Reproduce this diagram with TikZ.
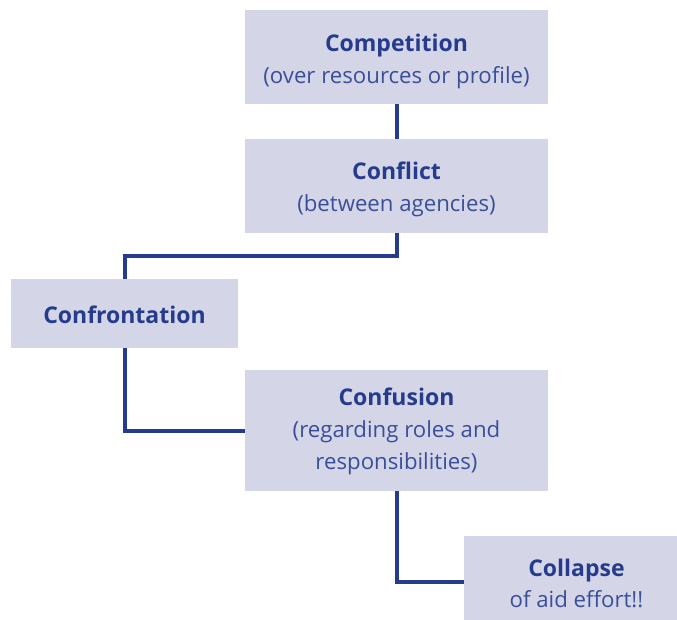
\documentclass[tikz,border=0pt]{standalone}
\usepackage{fontspec}
\setmainfont{Open Sans}
\definecolor{boxfill}{HTML}{D4D5E7}
\definecolor{navy}{HTML}{253C8C}
\definecolor{subtxt}{HTML}{3A4F98}
\newcommand{\ttl}[1]{\textbf{\fontsize{23}{33}\selectfont #1}}
\begin{document}
\begin{tikzpicture}[x=1pt,y=-1pt,
  box/.style={fill=boxfill, draw=none, inner sep=0pt},
  lbl/.style={inner sep=0pt, align=center, text=navy,
    font=\fontsize{22.2}{33}\selectfont},
  link/.style={draw=navy, line width=4pt}]
\useasboundingbox (0,0) rectangle (677,620);
\node[box, minimum width=303pt, minimum height=94pt] (comp) at (396.5,57) {};
\node[box, minimum width=303pt, minimum height=94pt] (conf) at (396.5,186) {};
\node[box, minimum width=227pt, minimum height=69pt] (cfr) at (124.5,313.5) {};
\node[box, minimum width=303pt, minimum height=121pt] (cfu) at (396.5,430.5) {};
\node[box, minimum width=213pt, minimum height=84pt] (col) at (570.5,578) {};
\node[lbl] (compt) at ([yshift=-4pt]comp.center)
  {\ttl{Competition}\\[-1pt]\color{subtxt}(over resources or profile)};
\node[lbl] (conft) at ([yshift=-3.5pt]conf.center)
  {\ttl{Conflict}\\[-1pt]\color{subtxt}(between agencies)};
\node[lbl] (cfrt) at ([yshift=-1pt]cfr.center)
  {\ttl{Confrontation}};
\node[lbl] (cfut) at ([yshift=-1pt]cfu.center)
  {\ttl{Confusion}\\[-1pt]\color{subtxt}(regarding roles and\\[-1pt]\color{subtxt}responsibilities)};
\node[lbl] (colt) at ([xshift=6pt,yshift=-5pt]col.center)
  {\ttl{Collapse}\\[-2pt]\color{subtxt}of aid effort!!};
\coordinate (j1) at (396.5,256.5);
\coordinate (j2) at (396.5,581.5);
\draw[link] (comp.south) -- (conf.north);
\draw[link] (conf.south) -- (j1) -| (cfr.north);
\draw[link] (cfr.south) |- (cfu.west);
\draw[link] (cfu.south) -- (j2) -- (j2 -| col.west);
\end{tikzpicture}
\end{document}
